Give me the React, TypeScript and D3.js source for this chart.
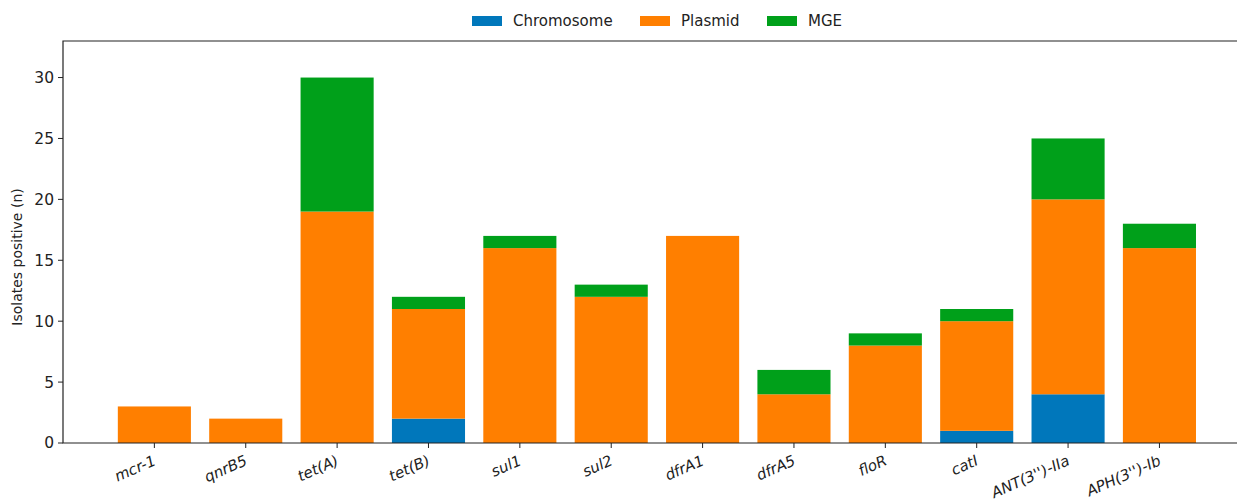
import React, { useEffect, useRef } from 'react';
import * as d3 from 'd3';

const genes = ['mcr-1', 'qnrB5', 'tet(A)', 'tet(B)', 'sul1', 'sul2', 'dfrA1', 'dfrA5', 'floR', 'catI', "ANT(3'')-IIa", "APH(3'')-Ib"];
const chromosome = [0, 0, 0, 2, 0, 0, 0, 0, 0, 1, 4, 0];
const plasmid = [3, 2, 19, 9, 16, 12, 17, 4, 8, 9, 16, 16];
const mge = [0, 0, 11, 1, 1, 1, 0, 2, 1, 1, 5, 2];
const seriesNames = ['Chromosome', 'Plasmid', 'MGE'];
const seriesColors = ['#0077bb', '#ff7f00', '#00a01a'];
const yTicks = [0, 5, 10, 15, 20, 25, 30];

export default function App() {
  const ref = useRef<SVGSVGElement>(null);

  useEffect(() => {
    document.body.style.margin = '0';
    if (!ref.current) return;
    const svg = d3.select(ref.current);
    svg.selectAll('*').remove();

    const W = 1237, H = 502;
    const left = 63, top = 41, bottom = 443;
    const step = 91.37;
    const font = 'DejaVu Sans, sans-serif';

    // x in bar-index units; plot extends past the right edge (cropped like the original)
    const x = d3.scaleLinear().domain([-1, genes.length]).range([left, left + step * (genes.length + 1)]);
    const y = d3.scaleLinear().domain([0, 33]).range([bottom, top]);
    const bw = step * 0.8;

    const rows = genes.map((g, i) => ({ gene: g, i, Chromosome: chromosome[i], Plasmid: plasmid[i], MGE: mge[i] }));
    const stacked = d3.stack<any>().keys(seriesNames)(rows);

    const g = svg.append('g');
    stacked.forEach((layer, k) => {
      g.selectAll(null)
        .data(layer.filter(d => d[1] - d[0] > 0))
        .enter()
        .append('rect')
        .attr('x', d => x(d.data.i) - bw / 2)
        .attr('width', bw)
        .attr('y', d => y(d[1]))
        .attr('height', d => y(d[0]) - y(d[1]))
        .attr('fill', seriesColors[k]);
    });

    // frame
    const right = x(genes.length);
    svg.append('path')
      .attr('d', `M${right},${top}H${left}V${bottom}H${right}`)
      .attr('fill', 'none')
      .attr('stroke', '#222')
      .attr('stroke-width', 1.2);

    // y ticks
    const yt = svg.append('g').attr('font-family', font).attr('font-size', 15.5).attr('fill', '#222');
    yTicks.forEach(t => {
      yt.append('line').attr('x1', left - 5).attr('x2', left).attr('y1', y(t)).attr('y2', y(t)).attr('stroke', '#222');
      yt.append('text').attr('x', left - 9).attr('y', y(t)).attr('dy', '0.35em').attr('text-anchor', 'end').text(t);
    });

    // x ticks
    const xt = svg.append('g').attr('font-family', font).attr('font-size', 15).attr('fill', '#222');
    genes.forEach((gn, i) => {
      xt.append('line').attr('x1', x(i)).attr('x2', x(i)).attr('y1', bottom).attr('y2', bottom + 5).attr('stroke', '#222');
      xt.append('text')
        .attr('transform', `translate(${x(i) - 2},${bottom + 11}) rotate(-24)`)
        .attr('text-anchor', 'end')
        .attr('dy', '0.75em')
        .attr('font-style', 'italic')
        .text(gn);
    });

    svg.append('text')
      .attr('transform', `translate(22,${(top + bottom) / 2 + 15}) rotate(-90)`)
      .attr('text-anchor', 'middle')
      .attr('font-family', font)
      .attr('font-size', 14)
      .attr('fill', '#222')
      .text('Isolates positive (n)');

    // legend
    const legX = [472, 640, 767];
    const leg = svg.append('g').attr('font-family', font).attr('font-size', 15).attr('fill', '#222');
    seriesNames.forEach((s, k) => {
      leg.append('rect').attr('x', legX[k]).attr('y', 16).attr('width', 30).attr('height', 10).attr('fill', seriesColors[k]);
      leg.append('text').attr('x', legX[k] + 41).attr('y', 21).attr('dy', '0.35em').text(s);
    });

    svg.attr('width', W).attr('height', H);
  }, []);

  return <svg ref={ref} width={1237} height={502} style={{ display: 'block', background: '#fff' }} />;
}
